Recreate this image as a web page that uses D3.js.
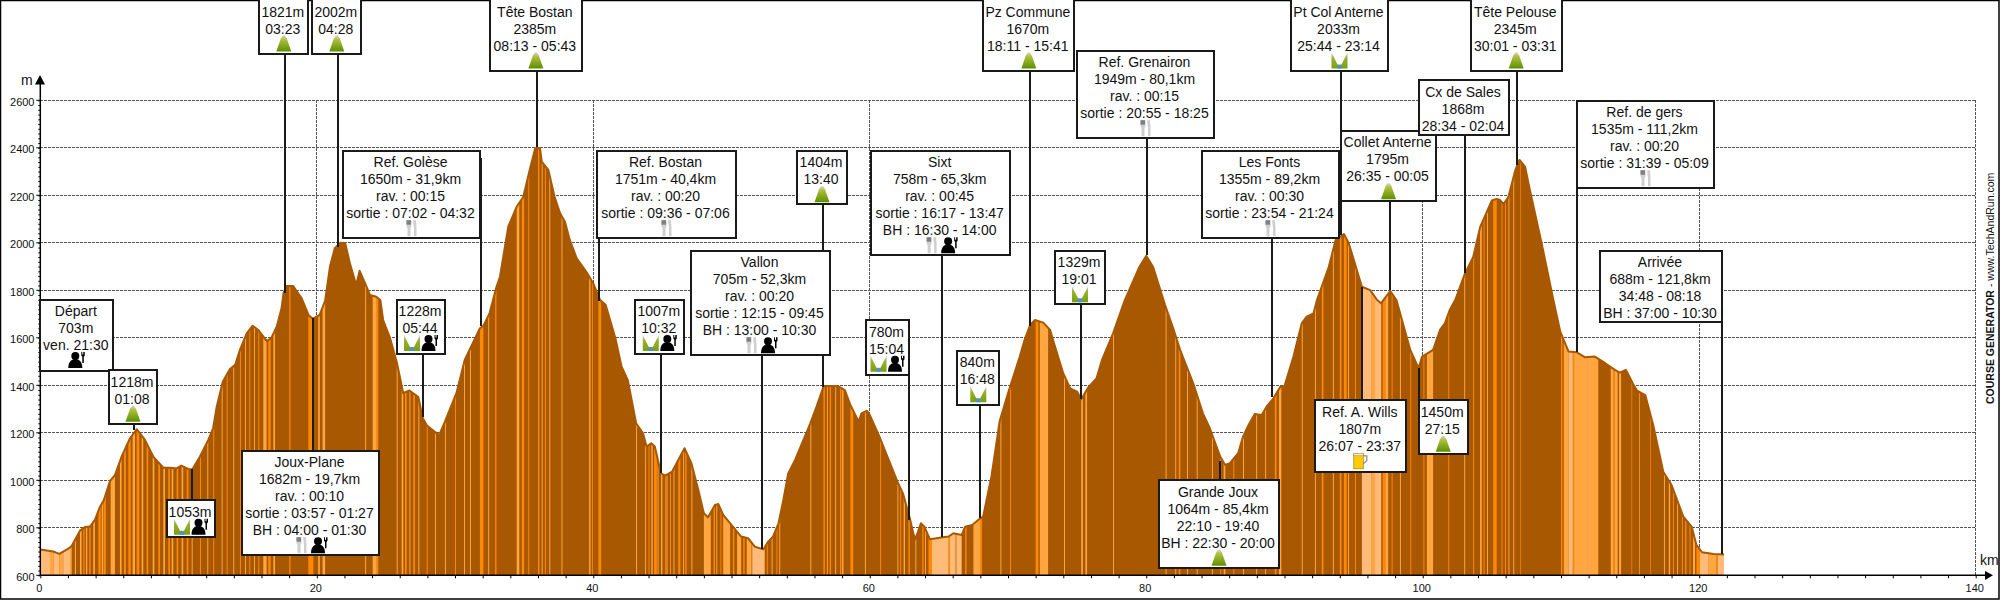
<!DOCTYPE html>
<html>
<head>
<meta charset="utf-8">
<script src="https://cdn.jsdelivr.net/npm/d3@7/dist/d3.min.js"></script>
<style>
    html, body { margin: 0; padding: 0; background: #fff; }
    svg { display: block; }
    text { font-family: "Liberation Sans", Arial, sans-serif; fill: #111; }
    .grid { stroke: #555; stroke-width: 1; stroke-dasharray: 2.5 1.5; fill: none; shape-rendering: crispEdges; }
    .leader { stroke: #1a1a1a; stroke-width: 2; shape-rendering: crispEdges; }
    .box { fill: #fff; stroke: #1a1a1a; stroke-width: 2; shape-rendering: crispEdges; }
</style>
</head>
<body>
<div id="chart"></div>
<script>
// elevation profile: [km, metres]
var profile = [
    [0,709],[0.94,700],[1.37,690],[2.03,712],[2.27,723],[2.87,788],[3.23,803],[3.59,805],[3.95,833],[4.32,889],
    [4.6,917],[5.04,997],[5.4,1022],[5.88,1100],[6.49,1177],[6.97,1215],[7.57,1170],[8.17,1100],[8.9,1053],[9.38,1053],
    [9.86,1050],[10.2,1062],[10.7,1048],[11,1046],[11.55,1100],[12.15,1170],[12.5,1219],[12.76,1310],[13.2,1415],[13.7,1467],
    [14.1,1486],[14.44,1549],[14.93,1619],[15.36,1651],[15.77,1633],[16.37,1587],[16.7,1598],[17.1,1647],[17.45,1724],[17.6,1790],
    [17.8,1818],[18.3,1818],[18.5,1800],[18.9,1767],[19.4,1696],[19.7,1680],[20.2,1696],[20.6,1755],[20.95,1899],[21.3,1977],
    [21.7,2000],[22.05,1999],[22.4,1913],[22.85,1822],[23.1,1882],[23.5,1829],[23.85,1780],[24.3,1773],[24.6,1759],[24.8,1675],
    [25.3,1599],[25.8,1494],[26.25,1367],[26.7,1378],[27.35,1350],[27.65,1265],[27.95,1232],[28.85,1190],[29.27,1247],[30.1,1367],
    [30.7,1507],[31.8,1640],[32.05,1650],[32.5,1704],[33,1815],[33.25,1857],[33.85,2068],[34.46,2152],[34.94,2194],[35.4,2307],
    [35.8,2398],[36.15,2398],[36.27,2342],[36.75,2307],[37.2,2194],[37.6,2124],[37.95,2089],[38.3,2012],[38.8,1935],[39.5,1878],
    [40,1829],[40.5,1759],[40.9,1738],[41.6,1598],[42.05,1478],[42.5,1422],[43.1,1240],[43.6,1198],[43.85,1142],[44.2,1156],
    [44.45,1142],[44.9,1029],[45.2,1020],[45.7,1036],[46.15,1086],[46.6,1135],[47.1,1072],[47.6,959],[48,861],[48.3,844],
    [48.8,896],[49.05,900],[49.4,854],[50.1,805],[50.7,763],[51.2,756],[51.7,720],[52.3,709],[52.65,742],[53,763],
    [53.4,819],[53.75,917],[54.1,1029],[54.6,1086],[55.7,1240],[56.15,1310],[56.65,1394],[57,1397],[57.7,1397],[58.2,1380],
    [58.6,1317],[59.2,1247],[59.4,1282],[59.8,1293],[60,1275],[60.75,1177],[62,994],[62.4,945],[62.9,840],[63.15,777],
    [63.3,752],[63.7,819],[63.95,805],[64.35,752],[65.3,760],[65.7,763],[66.05,777],[66.65,770],[66.9,805],[67.4,812],
    [68,840],[68.2,847],[68.8,1015],[69.4,1250],[70,1366],[70.85,1521],[71.2,1591],[71.6,1654],[71.95,1675],[72.55,1664],
    [73.05,1633],[73.4,1563],[74,1450],[74.5,1387],[75,1373],[75.3,1341],[75.8,1391],[76.4,1429],[76.8,1507],[77.6,1619],
    [78.45,1759],[79.5,1898],[80,1945],[80.5,1898],[81.35,1740],[81.95,1640],[82.45,1549],[83.4,1408],[84.1,1282],[84.6,1219],
    [85.35,1100],[85.7,1065],[86.05,1072],[86.65,1114],[87,1184],[87.4,1233],[87.85,1279],[88.35,1275],[88.7,1310],[89.2,1345],
    [89.7,1394],[90,1397],[90.65,1521],[91.25,1661],[91.6,1689],[92.1,1703],[92.35,1759],[93.2,1898],[93.7,2012],[94.3,2037],
    [94.65,1998],[95.6,1815],[96.2,1801],[96.7,1759],[97,1745],[97.15,1759],[97.65,1797],[98.1,1759],[98.5,1675],[99.1,1549],
    [99.7,1472],[99.95,1521],[100.75,1549],[101.25,1633],[101.6,1661],[101.95,1717],[102.35,1759],[103.05,1870],[103.65,1940],[104.15,2066],
    [105,2178],[105.35,2185],[105.6,2180],[105.85,2163],[106.2,2194],[106.7,2307],[107,2349],[107.4,2321],[107.75,2222],[108.6,1998],
    [109.45,1759],[109.95,1626],[110.55,1542],[111.15,1539],[111.75,1518],[112.45,1521],[113.2,1493],[113.9,1465],[114.25,1453],[114.7,1465],
    [115.2,1408],[115.5,1378],[116.1,1359],[116.7,1226],[117.4,1036],[118,980],[118.85,847],[119.45,805],[119.8,728],[120.2,697],
    [121.05,690],[121.8,688]
];

// slope stripes [startKm, endKm], three lighter shades over the dark base
var orangeStripes = [
    [3.11,3.2],[3.54,3.64],[4.2,4.37],[4.6,4.74],[6.05,6.19],[6.37,6.54],[6.97,7.16],[7.69,7.81],[8.54,8.66],[9.26,9.38],
    [9.86,9.98],[10.59,10.71],[11.55,11.62],[12.51,12.58],[13.48,13.55],[14.44,14.51],[15.12,15.19],[15.77,15.84],[16.49,16.66],[18.01,18.1],
    [19.39,19.75],[24.33,24.45],[26.38,26.5],[26.98,27.1],[27.95,28.02],[30,30.07],[31.8,32.05],[32.9,33],
    [34.83,35],[35.3,35.37],[36,36.1],[36.5,36.57],[39.9,39.97],[40.37,40.57],[44,44.07],[44.4,44.6],[45.2,45.27],[45.55,45.62],
    [46.15,46.3],[46.65,46.75],[48.7,48.8],[49.2,49.27],[50.1,50.2],[50.85,50.95],[52.55,52.62],[53.25,53.32],[56.65,56.75],[57.1,57.2],
    [57.85,57.95],[58.6,58.8],[60.75,60.82],[62.2,62.27],[62.8,62.9],[63.8,63.9],[64.25,64.5],[65.7,65.8],[66.2,66.27],[66.9,67],
    [68,68.12],[70.15,70.22],[72,72.2],[82.35,82.47],[85.35,85.42],[86.3,86.37],[89.3,89.42],[92.7,92.82],[94,94.12],[94.3,94.5],
    [95.1,95.17],[97.1,97.3],[97.75,97.82],[99.1,99.17],[100.05,100.12],[101.85,101.92],[103.65,103.72],[104.4,104.47],[105.1,105.35],[105.7,105.77],
    [105.95,106.02],[107.05,107.1],[110,110.1],[110.85,110.95],[113.8,113.9],[115.1,115.15],[116.45,116.5],[118.1,118.17],[118.75,118.82],[119.3,119.37],
    [119.8,120.05],[121.25,121.35]
];
var paleStripes = [
    [0.7,0.95],[1.37,1.66],[2.15,2.27],[2.5,2.58],[2.87,2.99],[3.3,3.4],[3.83,3.95],[4.44,4.56],[5.09,5.4],[5.76,5.88],
    [6.68,6.85],[7.33,7.45],[8.13,8.25],[8.9,9.02],[9.5,9.62],[10.22,10.34],[10.95,11.02],[12.08,12.15],[13.12,13.19],[13.96,14.03],
    [14.81,14.88],[15.46,15.53],[16.13,16.37],[16.86,16.98],[20.1,20.22],[20.42,20.6],[23.5,23.57],[24.04,24.33],[25.78,25.85],[26.14,26.26],
    [26.7,26.77],[27.35,27.42],[28.55,28.62],[29.27,29.34],[30.65,30.72],[31.08,31.15],[32.4,32.47],
    [34.46,34.65],[36.27,36.34],[36.82,36.89],[37.7,37.77],[39.7,39.8],[43.1,43.17],[43.75,43.82],[44.2,44.3],[44.65,44.72],[44.9,45],
    [45.3,45.37],[45.8,45.87],[46.5,46.57],[47.1,47.17],[48,48.5],[48.9,48.97],[49.4,49.9],[50.4,50.7],[51.1,51.45],[52.9,52.97],
    [53.45,53.52],[55.7,55.77],[56.9,56.97],[57.5,57.57],[58,58.1],[59.65,59.72],[62,62.07],[62.45,62.55],[63.3,63.37],[64,64.07],
    [67.5,68],[69.45,69.52],[72.3,72.9],[74.05,74.12],[75.3,75.42],[75.6,75.72],[77.6,77.67],[81.4,81.47],[82.1,82.17],[82.95,83.02],
    [83.65,83.72],[84.75,84.82],[85.6,85.72],[87,87.07],[87.95,88.02],[88.6,88.67],[89.6,89.77],[91.25,91.32],[92.2,92.27],[93.5,93.57],
    [94.6,94.67],[96.3,96.55],[97.3,97.5],[98.35,98.42],[100.3,100.75],[103,103.07],[104.15,104.27],[104.65,104.72],[106.2,106.27],[106.55,106.62],
    [110.2,110.55],[110.95,111.9],[111.95,112.7],[113.6,113.8],[113.9,114.1],[114.2,114.35],[115.65,115.7],[117.45,117.52],[117.8,117.9],[118.4,118.47],
    [119,119.07],[119.55,119.7],[120.65,121.25]
];
var lightStripes = [
    [0,0.7],[0.95,1.37],[1.66,2.15],[51.5,52.4],[64.5,65.7],[65.8,66.2],[66.27,66.65],[95.6,96.3],[96.55,97],[110.55,110.85],
    [111.9,111.95],[120.05,120.65],[121.35,121.8]
];

var yTicks = [600,800,1000,1200,1400,1600,1800,2000,2200,2400,2600];
var xTicks = [0,20,40,60,80,100,120,140];

// one entry per point on the course, in course order
var pointKm = [0,6.8,11,17.72,19.7,21.56,27.66,31.9,35.95,40.4,44.92,52.2,56.64,62.86,65.25,68,71.6,75.3,80.05,85.36,89.12,94.1,95.63,97.66,99.7,103.08,106.85,111.14,121.67];
var pointEndM = [709,1212,1046,1790,1682,1982,1267,1650,2403,1755,1031,709,1394,833,760,840,1650,1341,1949,1083,1352,2033,1815,1801,1472,1873,2328,1540,688];
var pointText = [
    ["Départ","703m","ven. 21:30"],
    ["1218m","01:08"],
    ["1053m"],
    ["1821m","03:23"],
    ["Joux-Plane","1682m - 19,7km","rav. : 00:10","sortie : 03:57 - 01:27","BH : 04:00 - 01:30"],
    ["2002m","04:28"],
    ["1228m","05:44"],
    ["Ref. Golèse","1650m - 31,9km","rav. : 00:15","sortie : 07:02 - 04:32"],
    ["Tête Bostan","2385m","08:13 - 05:43"],
    ["Ref. Bostan","1751m - 40,4km","rav. : 00:20","sortie : 09:36 - 07:06"],
    ["1007m","10:32"],
    ["Vallon","705m - 52,3km","rav. : 00:20","sortie : 12:15 - 09:45","BH : 13:00 - 10:30"],
    ["1404m","13:40"],
    ["780m","15:04"],
    ["Sixt","758m - 65,3km","rav. : 00:45","sortie : 16:17 - 13:47","BH : 16:30 - 14:00"],
    ["840m","16:48"],
    ["Pz Commune","1670m","18:11 - 15:41"],
    ["1329m","19:01"],
    ["Ref. Grenairon","1949m - 80,1km","rav. : 00:15","sortie : 20:55 - 18:25"],
    ["Grande Joux","1064m - 85,4km","22:10 - 19:40","BH : 22:30 - 20:00"],
    ["Les Fonts","1355m - 89,2km","rav. : 00:30","sortie : 23:54 - 21:24"],
    ["Pt Col Anterne","2033m","25:44 - 23:14"],
    ["Ref. A. Wills","1807m","26:07 - 23:37"],
    ["Collet Anterne","1795m","26:35 - 00:05"],
    ["1450m","27:15"],
    ["Cx de Sales","1868m","28:34 - 02:04"],
    ["Tête Pelouse","2345m","30:01 - 03:31"],
    ["Ref. de gers","1535m - 111,2km","rav. : 00:20","sortie : 31:39 - 05:09"],
    ["Arrivée","688m - 121,8km","34:48 - 08:18","BH : 37:00 - 10:30"]
];
var pointIcons = [
    ["person"],["peak"],["col","person"],["peak"],["food","person"],["peak"],["col","person"],["food"],["peak"],["food"],
    ["col","person"],["food","person"],["peak"],["col","person"],["food","person"],["col"],["peak"],["col"],["food"],["peak"],
    ["food"],["col"],["beer"],["peak"],["peak"],[],["peak"],["food"],[]
];

// callout box layout in page pixels: left, top, right, bottom
var pointBox = [
    [40.3,299.5,113.3,371],[108.7,370.3,157.3,424.3],[166.7,500.3,215.3,537.3],[259.3,-2,308.3,54],[241.7,450.7,379.3,555.3],
    [312.3,-2,361.3,54],[396.7,299.5,445.3,354.3],[342.7,150.7,480.3,238.3],[490,-2,581.7,71.3],[597.3,150.7,735.7,238.3],
    [635.3,299.5,684.3,354.3],[691.3,250.7,829.7,355],[797.3,150.7,846.7,204.3],[866.3,320.3,908.7,374.7],[871.3,150.7,1010,255.3],
    [957.3,350.7,999.3,404.7],[983.3,-2,1074.3,71.3],[1055.3,250.7,1104.7,304],[1076.7,50.7,1214.3,138.3],[1158.7,480.3,1279.3,568.3],
    [1201.7,150.7,1339.3,238.3],[1290.7,-2,1388.3,71.3],[1315.3,400.3,1406.3,471.7],[1340.7,130.7,1436.3,201.3],[1418.7,400.3,1467.7,454.3],
    [1418.7,80.3,1509.3,135.3],[1470.7,-2,1561.7,71.3],[1576.7,100.7,1714.3,188.3],[1600.3,250.7,1721.7,322]
];

var width = 2000, height = 600;
var x = d3.scaleLinear().domain([0, 140]).range([40.3, 1975.7]);
var y = d3.scaleLinear().domain([600, 2600]).range([575.3, 100.3]);

var svg = d3.select("#chart").append("svg")
    .attr("width", width)
    .attr("height", height);

// frame round the picture
svg.append("rect")
    .attr("x", 0.5).attr("y", 0.5)
    .attr("width", 1998.5).attr("height", 598.5)
    .attr("fill", "#fff").attr("stroke", "#000").attr("stroke-width", 1.5);

// grid
svg.selectAll("line.hgrid").data(yTicks.slice(1)).enter().append("line")
    .attr("class", "grid hgrid")
    .attr("x1", x(0)).attr("x2", x(140))
    .attr("y1", function(d){ return y(d); }).attr("y2", function(d){ return y(d); });
svg.selectAll("line.vgrid").data(xTicks.slice(1)).enter().append("line")
    .attr("class", "grid vgrid")
    .attr("x1", function(d){ return x(d); }).attr("x2", function(d){ return x(d); })
    .attr("y1", y(2600)).attr("y2", y(600));

// profile fill with its slope stripes clipped to it
var area = d3.area()
    .x(function(d){ return x(d[0]); })
    .y0(y(600))
    .y1(function(d){ return y(d[1]); });
var line = d3.line()
    .x(function(d){ return x(d[0]); })
    .y(function(d){ return y(d[1]); });

svg.append("clipPath").attr("id", "profileClip")
    .append("path").attr("d", area(profile));

var fillGroup = svg.append("g").attr("clip-path", "url(#profileClip)");
fillGroup.append("rect")
    .attr("x", x(0)).attr("y", y(2600))
    .attr("width", x(121.8) - x(0)).attr("height", y(600) - y(2600))
    .attr("fill", "#a85800");

function drawStripes(list, colour) {
    fillGroup.selectAll(null).data(list).enter().append("rect")
        .attr("x", function(d){ return x(d[0]); })
        .attr("y", y(2600))
        .attr("width", function(d){ return x(d[1]) - x(d[0]); })
        .attr("height", y(600) - y(2600))
        .attr("fill", colour);
}
drawStripes(orangeStripes, "#ff8800");
drawStripes(paleStripes, "#ffa640");
drawStripes(lightStripes, "#ffbb77");

svg.append("path")
    .attr("d", line(profile))
    .attr("fill", "none")
    .attr("stroke", "#a85800")
    .attr("stroke-width", 2)
    .attr("stroke-linejoin", "round");

// axes, hand styled on top of d3.axis
var yAxis = d3.axisLeft(y).tickValues(d3.range(600, 2601, 20)).tickSize(2).tickFormat("");
var yAxisGroup = svg.append("g").attr("transform", "translate(" + x(0) + ",0)").call(yAxis);
yAxisGroup.select(".domain").remove();
yAxisGroup.selectAll("line").attr("stroke", "#000");

var xAxis = d3.axisBottom(x).tickValues(d3.range(0, 141, 2)).tickSize(3).tickFormat("");
var xAxisGroup = svg.append("g").attr("transform", "translate(0," + y(600) + ")").call(xAxis);
xAxisGroup.select(".domain").remove();
xAxisGroup.selectAll("line").attr("stroke", "#000");

svg.append("line").attr("x1", x(0)).attr("x2", x(0)).attr("y1", 84).attr("y2", y(600))
    .attr("stroke", "#000").attr("stroke-width", 1.5);
svg.append("line").attr("x1", x(0)).attr("x2", 1986).attr("y1", y(600)).attr("y2", y(600))
    .attr("stroke", "#000").attr("stroke-width", 1.5);
svg.append("path").attr("d", "M35,84.5L45,84.5L40,75Z").attr("fill", "#000");
svg.append("path").attr("d", "M1985,571L1993,575.3L1985,580Z").attr("fill", "#000");

svg.selectAll("line.ymajor").data(yTicks).enter().append("line")
    .attr("x1", x(0) - 4).attr("x2", x(0))
    .attr("y1", function(d){ return y(d); }).attr("y2", function(d){ return y(d); })
    .attr("stroke", "#000");

svg.selectAll("text.ylabel").data(yTicks).enter().append("text")
    .attr("x", 34.5)
    .attr("y", function(d){ return y(d) + 5.5; })
    .attr("text-anchor", "end")
    .attr("font-size", 11)
    .text(function(d){ return d; });

svg.selectAll("text.xlabel").data(xTicks).enter().append("text")
    .attr("x", function(d){ return x(d) - 1; })
    .attr("y", 592)
    .attr("text-anchor", "middle")
    .attr("font-size", 11)
    .text(function(d){ return d; });

svg.append("text").attr("x", 21).attr("y", 85).attr("font-size", 14).text("m");
svg.append("text").attr("x", 1980).attr("y", 565).attr("font-size", 14).text("km");

var credit = svg.append("text")
    .attr("transform", "translate(1994,404) rotate(-90)")
    .attr("font-size", 10.5);
credit.append("tspan").attr("font-weight", "bold").text("COURSE GENERATOR");
credit.append("tspan").text(" - www.TechAndRun.com");

// icons, each drawn in a 16x16 cell
var defs = svg.append("defs");
var peakGrad = defs.append("linearGradient").attr("id", "peakGrad").attr("x1", 0).attr("x2", 0).attr("y1", 0).attr("y2", 1);
peakGrad.append("stop").attr("offset", "0%").attr("stop-color", "#d8d0d0");
peakGrad.append("stop").attr("offset", "25%").attr("stop-color", "#b0c040");
peakGrad.append("stop").attr("offset", "100%").attr("stop-color", "#5c9000");
var colGrad = defs.append("linearGradient").attr("id", "colGrad").attr("x1", 0).attr("x2", 0).attr("y1", 0).attr("y2", 1);
colGrad.append("stop").attr("offset", "0%").attr("stop-color", "#d0d0d0");
colGrad.append("stop").attr("offset", "35%").attr("stop-color", "#98b030");
colGrad.append("stop").attr("offset", "100%").attr("stop-color", "#78a010");

function drawIcon(g, kind) {
    if (kind == "peak") {
        g.append("path").attr("d", "M7,0L9,0L11,3L15.5,16L0.5,16L5,3Z").attr("fill", "url(#peakGrad)");
    }
    else if (kind == "col") {
        g.append("path").attr("d", "M0,0L6,12L10,12L16,0L16,16L0,16Z").attr("fill", "url(#colGrad)");
        g.append("rect").attr("x", 6).attr("y", 12.5).attr("width", 4).attr("height", 3.5).attr("fill", "#4a90e0");
    }
    else if (kind == "food") {
        g.append("path").attr("d", "M3,0L8,0L8,6L7,8L7,16L4,16L4,8L3,6Z").attr("fill", "#cfcfcf");
        g.append("rect").attr("x", 3).attr("y", 0).attr("width", 4.5).attr("height", 4.5).attr("fill", "#808080");
        g.append("path").attr("d", "M9.5,0L12.5,0L13,8L13,16L10.5,16L10.5,8Z").attr("fill", "#cfcfcf");
    }
    else if (kind == "person") {
        g.append("circle").attr("cx", 6.5).attr("cy", 4).attr("r", 4).attr("fill", "#000");
        g.append("path").attr("d", "M-0.5,16C-0.5,10.5 2,7 6.5,7C11,7 13.5,10.5 13.5,16Z").attr("fill", "#000");
        g.append("path").attr("d", "M12.5,0L13.5,0L13.5,2.5L14.5,2.5L14.5,0L16,0L16,3.5L15,4.7L15,11L13.5,11L13.5,4.7L12.5,3.5Z").attr("fill", "#000");
    }
    else if (kind == "beer") {
        g.append("rect").attr("x", 1).attr("y", 1).attr("width", 9.5).attr("height", 15).attr("fill", "#ffcc00").attr("stroke", "#a08020").attr("stroke-width", 0.7);
        g.append("rect").attr("x", 1).attr("y", 0.5).attr("width", 9.5).attr("height", 2.5).attr("fill", "#f4f0d8").attr("stroke", "#a08020").attr("stroke-width", 0.5);
        g.append("path").attr("d", "M10.5,3L14,3L14,8L10.5,11").attr("fill", "none").attr("stroke", "#888").attr("stroke-width", 1.2);
    }
}

// leaders go first so every box covers the lines behind it
pointKm.forEach(function(km, i){
    var box = pointBox[i];
    var endY = y(pointEndM[i]);
    var startY = endY < box[1] ? box[1] : box[1] + 7;
    if (i == 0) { return; }
    svg.append("line").attr("class", "leader")
        .attr("x1", x(km)).attr("x2", x(km))
        .attr("y1", startY).attr("y2", endY);
});

pointKm.forEach(function(km, i){
    var box = pointBox[i];
    var g = svg.append("g");
    g.append("rect").attr("class", "box")
        .attr("x", box[0]).attr("y", box[1])
        .attr("width", box[2] - box[0]).attr("height", box[3] - box[1]);

    var cx = (box[0] + box[2]) / 2 - 1;
    var top = box[1] < 0 ? 0 : box[1];
    pointText[i].forEach(function(t, j){
        g.append("text")
            .attr("x", cx)
            .attr("y", top + 16.5 + j * 17)
            .attr("text-anchor", "middle")
            .attr("font-size", 14)
            .text(t);
    });

    var icons = pointIcons[i];
    var iconY = top + pointText[i].length * 17 + 1.5;
    var startX = (box[0] + box[2]) / 2 - (icons.length * 16 + (icons.length - 1) * 2) / 2;
    icons.forEach(function(kind, j){
        var ig = g.append("g").attr("transform", "translate(" + (startX + j * 18) + "," + iconY + ")");
        drawIcon(ig, kind);
    });
});
</script>
</body>
</html>
